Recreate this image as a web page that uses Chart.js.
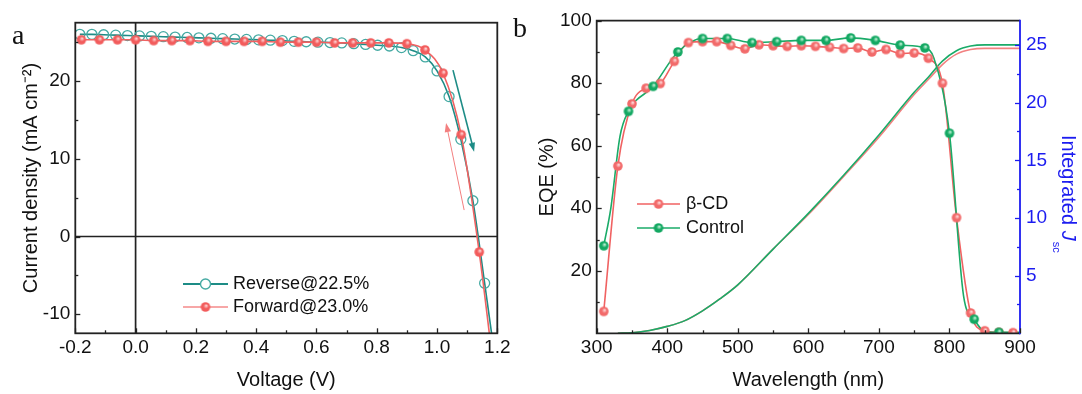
<!DOCTYPE html>
<html>
<head>
<meta charset="utf-8">
<script src="https://cdn.jsdelivr.net/npm/chart.js@4.4.1/dist/chart.umd.min.js"></script>
<style>
  html, body { margin: 0; padding: 0; background: #fff; }
  #wrap { position: relative; width: 1082px; height: 394px; overflow: hidden; }
  #ca, #cb { position: absolute; top: 0; }
  #ca { left: 0; }
  #cb { left: 500px; }
</style>
</head>
<body>
<div id="wrap">
  <canvas id="ca" width="540" height="394"></canvas>
  <canvas id="cb" width="582" height="394"></canvas>
</div>
<script>
var FONT = 'Liberation Sans, Arial, Helvetica, sans-serif';
Chart.defaults.font.family = FONT;
Chart.defaults.color = '#111';

// ---------- panel a : J-V curves ----------
var jvXTicks = [-0.2, 0, 0.2, 0.4, 0.6, 0.8, 1.0, 1.2];
var jvXMinor = [-0.1, 0.1, 0.3, 0.5, 0.7, 0.9, 1.1];
var jvYTicks = [-10, 0, 10, 20];
var jvYMinor = [-5, 5, 15, 25];

var revLabel = 'Reverse@22.5%';
var revV = [-0.185, -0.145, -0.106, -0.066, -0.027, 0.013, 0.052, 0.092, 0.131, 0.171,
            0.210, 0.250, 0.289, 0.329, 0.368, 0.408, 0.447, 0.487, 0.526, 0.566,
            0.605, 0.645, 0.684, 0.724, 0.763, 0.803, 0.842, 0.882, 0.921, 0.961,
            1.000, 1.040, 1.079, 1.119, 1.158, 1.190];
var revJ = [26.0, 26.0, 25.95, 25.9, 25.85, 25.8, 25.75, 25.7, 25.65, 25.6,
            25.55, 25.5, 25.45, 25.4, 25.35, 25.3, 25.25, 25.2, 25.1, 25.05,
            25.0, 24.95, 24.9, 24.8, 24.7, 24.6, 24.5, 24.3, 23.9, 23.1,
            21.3, 18.0, 12.5, 4.6, -6.0, -15.0];

var fwdLabel = 'Forward@23.0%';
var fwdV = [-0.18, -0.12, -0.06, 0.0, 0.06, 0.12, 0.18, 0.24, 0.30, 0.36, 0.42, 0.48,
            0.54, 0.60, 0.66, 0.72, 0.78, 0.84, 0.90, 0.96, 1.02, 1.08, 1.14, 1.18];
var fwdJ = [25.3, 25.3, 25.3, 25.3, 25.2, 25.2, 25.2, 25.1, 25.1, 25.1, 25.1, 25.0,
            25.0, 25.0, 24.9, 24.9, 24.9, 24.9, 24.8, 24.0, 21.0, 13.1, -2.0, -14.5];

// ---------- panel b : EQE + integrated Jsc ----------
var wlTicks = [300, 400, 500, 600, 700, 800, 900];
var wlMinor = [350, 450, 550, 650, 750, 850];
var eqeTicks = [20, 40, 60, 80, 100];
var eqeMinor = [10, 30, 50, 70, 90];
var jscTicks = [5, 10, 15, 20, 25];
var jscMinor = [2.5, 7.5, 12.5, 17.5, 22.5];

var cdLabel = '\u03B2-CD';
var cdWl  = [310, 330, 350, 370, 390, 410, 430, 450, 470, 490, 510, 530, 550, 570, 590,
             610, 630, 650, 670, 690, 710, 730, 750, 770, 790, 810, 830, 850, 870, 890];
var cdEqe = [7, 53.5, 73.4, 78.4, 79.9, 87, 93, 93.3, 93.3, 92.1, 91, 92.3, 92, 91.8, 92,
             91.8, 91.5, 91.1, 91.3, 90, 90.8, 89.5, 89.7, 88, 80, 37, 6.5, 0.8, 0.3, 0.2];

var ctlLabel = 'Control';
var ctlWl  = [310, 345, 380, 415, 450, 485, 520, 555, 590, 625, 660, 695, 730, 765, 800, 835, 870];
var ctlEqe = [28, 71, 79, 90, 94.3, 94.3, 93, 93.3, 93.7, 93.7, 94.5, 93.7, 92.2, 91.3, 64, 4.5, 0.3];
// curve through the markers (extra read points where the line bends)
var ctlLineWl  = [310, 320, 333, 345, 380, 415, 450, 485, 520, 555, 590, 625, 660, 695, 730,
                  765, 778, 800, 820, 835, 850, 870, 900];
var ctlLineEqe = [28, 40, 63, 71, 79, 90, 94.3, 94.3, 93, 93.3, 93.7, 93.7, 94.5, 93.7, 92.2,
                  91.3, 88, 64, 12, 4.5, 0.6, 0.3, 0.3];

var jscWl  = [330, 350, 375, 400, 425, 450, 475, 500, 550, 600, 650, 700, 750, 770, 790, 810, 830, 850, 900];
var jscCtl = [0, 0.05, 0.25, 0.6, 1.1, 1.95, 3.0, 4.2, 7.3, 10.4, 13.7, 17.2, 20.9, 22.2, 23.6, 24.5, 24.9, 25.0, 25.0];
var jscCd  = [0, 0.05, 0.25, 0.6, 1.1, 1.95, 3.0, 4.2, 7.3, 10.3, 13.6, 17.0, 20.7, 22.0, 23.3, 24.2, 24.6, 24.7, 24.7];

// ---------- helpers ----------
function pts(xs, ys) { return xs.map(function (v, i) { return { x: v, y: ys[i] }; }); }

function sphere(r, base, light) {
  var c = document.createElement('canvas');
  var s = Math.ceil(r * 2) + 2;
  c.width = c.height = s;
  var g = c.getContext('2d');
  var grad = g.createRadialGradient(s / 2 + r * 0.2, s / 2 - r * 0.3, r * 0.05, s / 2, s / 2, r);
  grad.addColorStop(0, light);
  grad.addColorStop(0.5, base);
  grad.addColorStop(1, base);
  g.fillStyle = grad;
  g.beginPath(); g.arc(s / 2, s / 2, r, 0, Math.PI * 2); g.fill();
  return c;
}

var RED = '#f06262', TEAL = '#1d8c86', TEAL_PT = '#45aaa3', GREEN = '#1aab68', BLUE = '#1c1cf0';
var redBall = sphere(4.8, '#f25c5c', '#ffd9d9');
var redBallB = sphere(4.8, '#f26a6a', '#ffdede');
var greenBall = sphere(4.8, '#13a862', '#c9f5dc');

function tickMarks(c, scale, vals, len, side, area) {
  vals.forEach(function (v) {
    var p = Math.round(scale.getPixelForValue(v)) + 0.5;
    c.beginPath();
    if (side === 'bottom') { c.moveTo(p, area.bottom); c.lineTo(p, area.bottom - len); }
    if (side === 'left') { c.moveTo(area.left, p); c.lineTo(area.left + len, p); }
    if (side === 'right') { c.moveTo(area.right, p); c.lineTo(area.right - len, p); }
    c.stroke();
  });
}

function arrow(c, x1, y1, x2, y2, color, w) {
  var ang = Math.atan2(y2 - y1, x2 - x1), L = 9, H = 3.2;
  c.strokeStyle = color; c.fillStyle = color; c.lineWidth = w;
  c.beginPath(); c.moveTo(x1, y1); c.lineTo(x2 - Math.cos(ang) * L * 0.8, y2 - Math.sin(ang) * L * 0.8); c.stroke();
  c.beginPath();
  c.moveTo(x2, y2);
  c.lineTo(x2 - Math.cos(ang) * L + Math.sin(ang) * H, y2 - Math.sin(ang) * L - Math.cos(ang) * H);
  c.lineTo(x2 - Math.cos(ang) * L - Math.sin(ang) * H, y2 - Math.sin(ang) * L + Math.cos(ang) * H);
  c.closePath(); c.fill();
}

// ---------- panel a ----------
var jvDecor = {
  id: 'jvDecor',
  beforeDatasetsDraw: function (chart) {
    var c = chart.ctx, a = chart.chartArea, x = chart.scales.x, y = chart.scales.y;
    c.save();
    c.strokeStyle = '#222'; c.lineWidth = 1.7;
    var x0 = x.getPixelForValue(0), y0 = y.getPixelForValue(0);
    c.beginPath(); c.moveTo(x0, a.top); c.lineTo(x0, a.bottom); c.stroke();
    c.beginPath(); c.moveTo(a.left, y0); c.lineTo(a.right, y0); c.stroke();
    c.restore();
  },
  afterDraw: function (chart) {
    var c = chart.ctx, a = chart.chartArea, x = chart.scales.x, y = chart.scales.y;
    c.save();
    c.strokeStyle = '#222'; c.lineWidth = 1.8;
    c.strokeRect(a.left, a.top, a.right - a.left, a.bottom - a.top);
    c.lineWidth = 1.3;
    tickMarks(c, x, jvXTicks, 5, 'bottom', a);
    tickMarks(c, x, jvXMinor, 3, 'bottom', a);
    tickMarks(c, y, jvYTicks, 5, 'left', a);
    tickMarks(c, y, jvYMinor, 3, 'left', a);

    // scan direction arrows
    arrow(c, x.getPixelForValue(1.053), y.getPixelForValue(21.4),
             x.getPixelForValue(1.123), y.getPixelForValue(10.9), TEAL, 1.6);
    arrow(c, x.getPixelForValue(1.09), y.getPixelForValue(3.4),
             x.getPixelForValue(1.03), y.getPixelForValue(14.6), '#f37f7f', 1.0);

    // legend
    c.font = '18px ' + FONT; c.textBaseline = 'middle'; c.fillStyle = '#111';
    c.strokeStyle = TEAL; c.lineWidth = 2;
    c.beginPath(); c.moveTo(183, 284); c.lineTo(228, 284); c.stroke();
    c.fillStyle = '#fff'; c.strokeStyle = TEAL_PT; c.lineWidth = 1.4;
    c.beginPath(); c.arc(205.5, 284, 5, 0, Math.PI * 2); c.fill(); c.stroke();
    c.strokeStyle = '#f48a8a'; c.lineWidth = 1.5;
    c.beginPath(); c.moveTo(183, 307); c.lineTo(228, 307); c.stroke();
    c.drawImage(redBall, 205.5 - redBall.width / 2, 307 - redBall.height / 2);
    c.fillStyle = '#111';
    c.fillText(revLabel, 233, 284);
    c.fillText(fwdLabel, 233, 307);

    // panel letter
    c.font = '28px Liberation Serif, Times New Roman, serif';
    c.fillText('a', 12, 37);
    c.restore();
  }
};

new Chart(document.getElementById('ca'), {
  type: 'line',
  data: {
    datasets: [
      {
        label: fwdLabel,
        data: pts(fwdV, fwdJ),
        borderColor: RED, borderWidth: 1.6,
        pointStyle: redBall,
        pointRadius: function (ctx) { return ctx.dataIndex < fwdV.length - 1 ? 5 : 0; },
        cubicInterpolationMode: 'monotone'
      },
      {
        label: revLabel,
        data: pts(revV, revJ),
        borderColor: TEAL, borderWidth: 1.6,
        pointStyle: 'circle',
        pointRadius: function (ctx) { return ctx.dataIndex < revV.length - 1 ? 5 : 0; },
        pointBorderColor: TEAL_PT, pointBorderWidth: 1.3,
        pointBackgroundColor: 'rgba(255,255,255,0)',
        cubicInterpolationMode: 'monotone'
      }
    ]
  },
  options: {
    responsive: false, animation: false,
    layout: { padding: { left: 0, right: 42.7, top: 22.7, bottom: 0 } },
    plugins: { legend: { display: false }, tooltip: { enabled: false } },
    scales: {
      x: {
        type: 'linear', min: -0.2, max: 1.2,
        afterBuildTicks: function (s) { s.ticks = jvXTicks.map(function (v) { return { value: v }; }); },
        afterFit: function (s) { s.height = 60.7; },
        grid: { display: false, drawTicks: false }, border: { display: false },
        ticks: { padding: 3, autoSkip: false, maxRotation: 0, font: { size: 19 },
                 callback: function (v) { return Number(v).toFixed(1); } },
        title: { display: true, text: 'Voltage (V)', font: { size: 20 }, padding: { top: 0, bottom: 2 } }
      },
      y: {
        type: 'linear', min: -12.45, max: 27.5,
        afterBuildTicks: function (s) { s.ticks = jvYTicks.map(function (v) { return { value: v }; }); },
        afterFit: function (s) { s.width = 75.3; },
        grid: { display: false, drawTicks: false }, border: { display: false },
        ticks: { padding: 5, font: { size: 19 } },
        title: { display: true, text: 'Current density (mA cm\u207B\u00B2)', font: { size: 20 }, padding: { top: 19, bottom: 0 } }
      }
    }
  },
  plugins: [jvDecor]
});

// ---------- panel b ----------
var eqeDecor = {
  id: 'eqeDecor',
  afterDraw: function (chart) {
    var c = chart.ctx, a = chart.chartArea, x = chart.scales.x, y = chart.scales.y, y1 = chart.scales.y1;
    c.save();
    c.lineWidth = 1.8; c.strokeStyle = '#222';
    c.beginPath();
    c.moveTo(a.right, a.top); c.lineTo(a.left, a.top); c.lineTo(a.left, a.bottom); c.lineTo(a.right, a.bottom);
    c.stroke();
    c.strokeStyle = BLUE;
    c.beginPath(); c.moveTo(a.right, a.top - 0.9); c.lineTo(a.right, a.bottom + 0.9); c.stroke();

    c.lineWidth = 1.3; c.strokeStyle = '#222';
    tickMarks(c, x, wlTicks, 5, 'bottom', a);
    tickMarks(c, x, wlMinor, 3, 'bottom', a);
    tickMarks(c, y, eqeTicks, 5, 'left', a);
    tickMarks(c, y, eqeMinor, 3, 'left', a);
    c.strokeStyle = BLUE;
    tickMarks(c, y1, jscTicks, 5, 'right', a);
    tickMarks(c, y1, jscMinor, 3, 'right', a);

    // legend
    c.font = '18px ' + FONT; c.textBaseline = 'middle';
    c.strokeStyle = RED; c.lineWidth = 1.6;
    c.beginPath(); c.moveTo(137, 204); c.lineTo(180, 204); c.stroke();
    c.drawImage(redBallB, 158.5 - redBallB.width / 2, 204 - redBallB.height / 2);
    c.strokeStyle = GREEN;
    c.beginPath(); c.moveTo(137, 228); c.lineTo(180, 228); c.stroke();
    c.drawImage(greenBall, 158.5 - greenBall.width / 2, 228 - greenBall.height / 2);
    c.fillStyle = '#111';
    c.fillText(cdLabel, 186, 204);
    c.fillText(ctlLabel, 186, 228);

    // right axis title: Integrated J_sc (rotated clockwise)
    c.fillStyle = BLUE;
    c.translate(568, 135);
    c.rotate(Math.PI / 2);
    c.textBaseline = 'middle'; c.textAlign = 'left';
    c.font = '20px ' + FONT;
    var t1 = 'Integrated ';
    c.fillText(t1, 0, 0);
    var w1 = c.measureText(t1).width;
    c.font = 'italic 20px ' + FONT;
    c.fillText('J', w1, 0);
    var w2 = c.measureText('J').width;
    c.font = '11px ' + FONT;
    c.fillText('sc', w1 + w2 + 1, 12);
    c.restore();

    c.save();
    c.fillStyle = '#111';
    c.font = '28px Liberation Serif, Times New Roman, serif';
    c.textBaseline = 'alphabetic';
    c.fillText('b', 13, 37);
    c.restore();
  }
};

new Chart(document.getElementById('cb'), {
  type: 'line',
  data: {
    datasets: [
      { label: ctlLabel, data: pts(ctlWl, ctlEqe), showLine: false, pointStyle: greenBall, pointRadius: 5 },
      { label: cdLabel, data: pts(cdWl, cdEqe), showLine: false, pointStyle: redBallB, pointRadius: 5 },
      { label: ctlLabel + ' curve', data: pts(ctlLineWl, ctlLineEqe), borderColor: GREEN, borderWidth: 1.6,
        pointRadius: 0, cubicInterpolationMode: 'monotone' },
      { label: cdLabel + ' curve', data: pts(cdWl, cdEqe), borderColor: RED, borderWidth: 1.6,
        pointRadius: 0, cubicInterpolationMode: 'monotone' },
      { label: ctlLabel + ' Jsc', data: pts(jscWl, jscCtl), yAxisID: 'y1', borderColor: GREEN, borderWidth: 1.6,
        pointRadius: 0, cubicInterpolationMode: 'monotone' },
      { label: cdLabel + ' Jsc', data: pts(jscWl, jscCd), yAxisID: 'y1', borderColor: '#f28080', borderWidth: 1.6,
        pointRadius: 0, cubicInterpolationMode: 'monotone' }
    ]
  },
  options: {
    responsive: false, animation: false,
    layout: { padding: { left: 0, right: 0, top: 20.7, bottom: 0 } },
    plugins: { legend: { display: false }, tooltip: { enabled: false } },
    scales: {
      x: {
        type: 'linear', min: 300, max: 900,
        afterBuildTicks: function (s) { s.ticks = wlTicks.map(function (v) { return { value: v }; }); },
        afterFit: function (s) { s.height = 60.7; },
        grid: { display: false, drawTicks: false }, border: { display: false },
        ticks: { padding: 3, autoSkip: false, maxRotation: 0, font: { size: 19 } },
        title: { display: true, text: 'Wavelength (nm)', font: { size: 20 }, padding: { top: 0, bottom: 2 } }
      },
      y: {
        type: 'linear', position: 'left', min: 0, max: 100,
        afterBuildTicks: function (s) { s.ticks = eqeTicks.map(function (v) { return { value: v }; }); },
        afterFit: function (s) { s.width = 96.7; },
        grid: { display: false, drawTicks: false }, border: { display: false },
        ticks: { padding: 5, font: { size: 19 } },
        title: { display: true, text: 'EQE (%)', font: { size: 20 }, padding: { top: 35, bottom: 0 } }
      },
      y1: {
        type: 'linear', position: 'right', min: 0, max: 27.1,
        afterBuildTicks: function (s) { s.ticks = jscTicks.map(function (v) { return { value: v }; }); },
        afterFit: function (s) { s.width = 62; },
        grid: { display: false, drawTicks: false }, border: { display: false },
        ticks: { padding: 6, color: BLUE, font: { size: 19 } }
      }
    }
  },
  plugins: [eqeDecor]
});
</script>
</body>
</html>
